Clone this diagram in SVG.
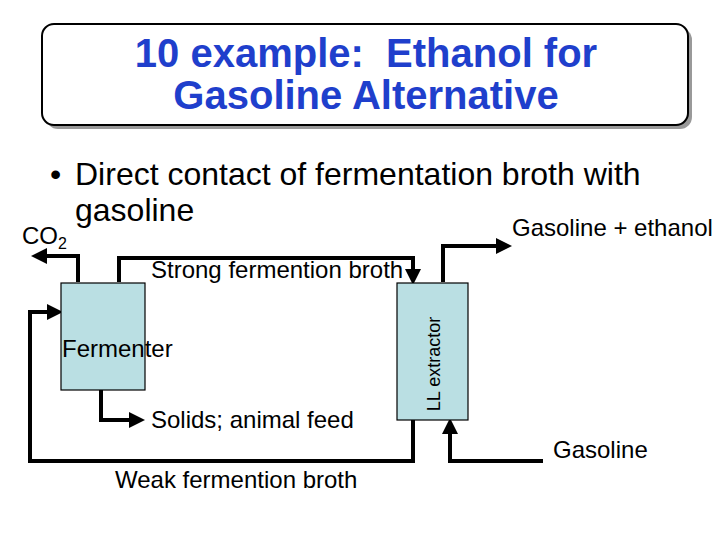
<svg xmlns="http://www.w3.org/2000/svg" width="720" height="540" viewBox="0 0 720 540">
<style>
text{font-family:"Liberation Sans",Arial,sans-serif;fill:#000}
.title{font-size:40px;font-weight:bold;fill:#1f3fcc}
.bul{font-size:32px}
.lbl{font-size:24px}
.box{fill:#badfe3;stroke:#000;stroke-width:1.2}
.ln{fill:none;stroke:#000;stroke-width:4;stroke-linejoin:miter}
</style>
<defs>
<marker id="ah" markerWidth="4" markerHeight="4" refX="2.5" refY="2" orient="auto" markerUnits="strokeWidth" viewBox="0 0 4 4">
<path d="M0,0 L4,2 L0,4 z" fill="#000"/>
</marker>
</defs>
<rect width="720" height="540" fill="#fff"/>
<g id="title">
<rect x="46" y="28" width="646" height="101" rx="12" fill="#999"/>
<rect x="42" y="24" width="646" height="101" rx="12" fill="#fff" stroke="#000" stroke-width="2"/>
<text class="title" x="366" y="67" text-anchor="middle" xml:space="preserve">10 example:  Ethanol for</text>
<text class="title" x="366" y="109" text-anchor="middle">Gasoline Alternative</text>
</g>
<g id="bullet">
<text class="bul" x="50" y="185">•</text>
<text class="bul" x="75" y="185">Direct contact of fermentation broth with</text>
<text class="bul" x="75" y="221">gasoline</text>
</g>
<g id="connectors">
<path class="ln" d="M78,282 V256 H37" marker-end="url(#ah)"/>
<path class="ln" d="M119,282 V258 H413 V279" marker-end="url(#ah)"/>
<path class="ln" d="M443,282 V246 H506" marker-end="url(#ah)"/>
<path class="ln" d="M101,390 V420 H139" marker-end="url(#ah)"/>
<path class="ln" d="M413,420 V461 H30 V312 H57" marker-end="url(#ah)"/>
<path class="ln" d="M543,461 H450 V424" marker-end="url(#ah)"/>
</g>
<g id="fermenter">
<rect class="box" x="61" y="283" width="84" height="107"/>
<text class="lbl" x="62" y="357">Fermenter</text>
</g>
<g id="extractor">
<rect class="box" x="397" y="283" width="71" height="137"/>
<text class="lbl" style="font-size:18px" transform="translate(440,364) rotate(-90)" text-anchor="middle">LL extractor</text>
</g>
<g id="labels">
<text class="lbl" x="22" y="244">CO<tspan font-size="16" dy="5">2</tspan></text>
<text class="lbl" x="512" y="236">Gasoline + ethanol</text>
<text class="lbl" x="151" y="278">Strong fermention broth</text>
<text class="lbl" x="151" y="428">Solids; animal feed</text>
<text class="lbl" x="553" y="458">Gasoline</text>
<text class="lbl" x="115" y="488">Weak fermention broth</text>
</g>
</svg>
